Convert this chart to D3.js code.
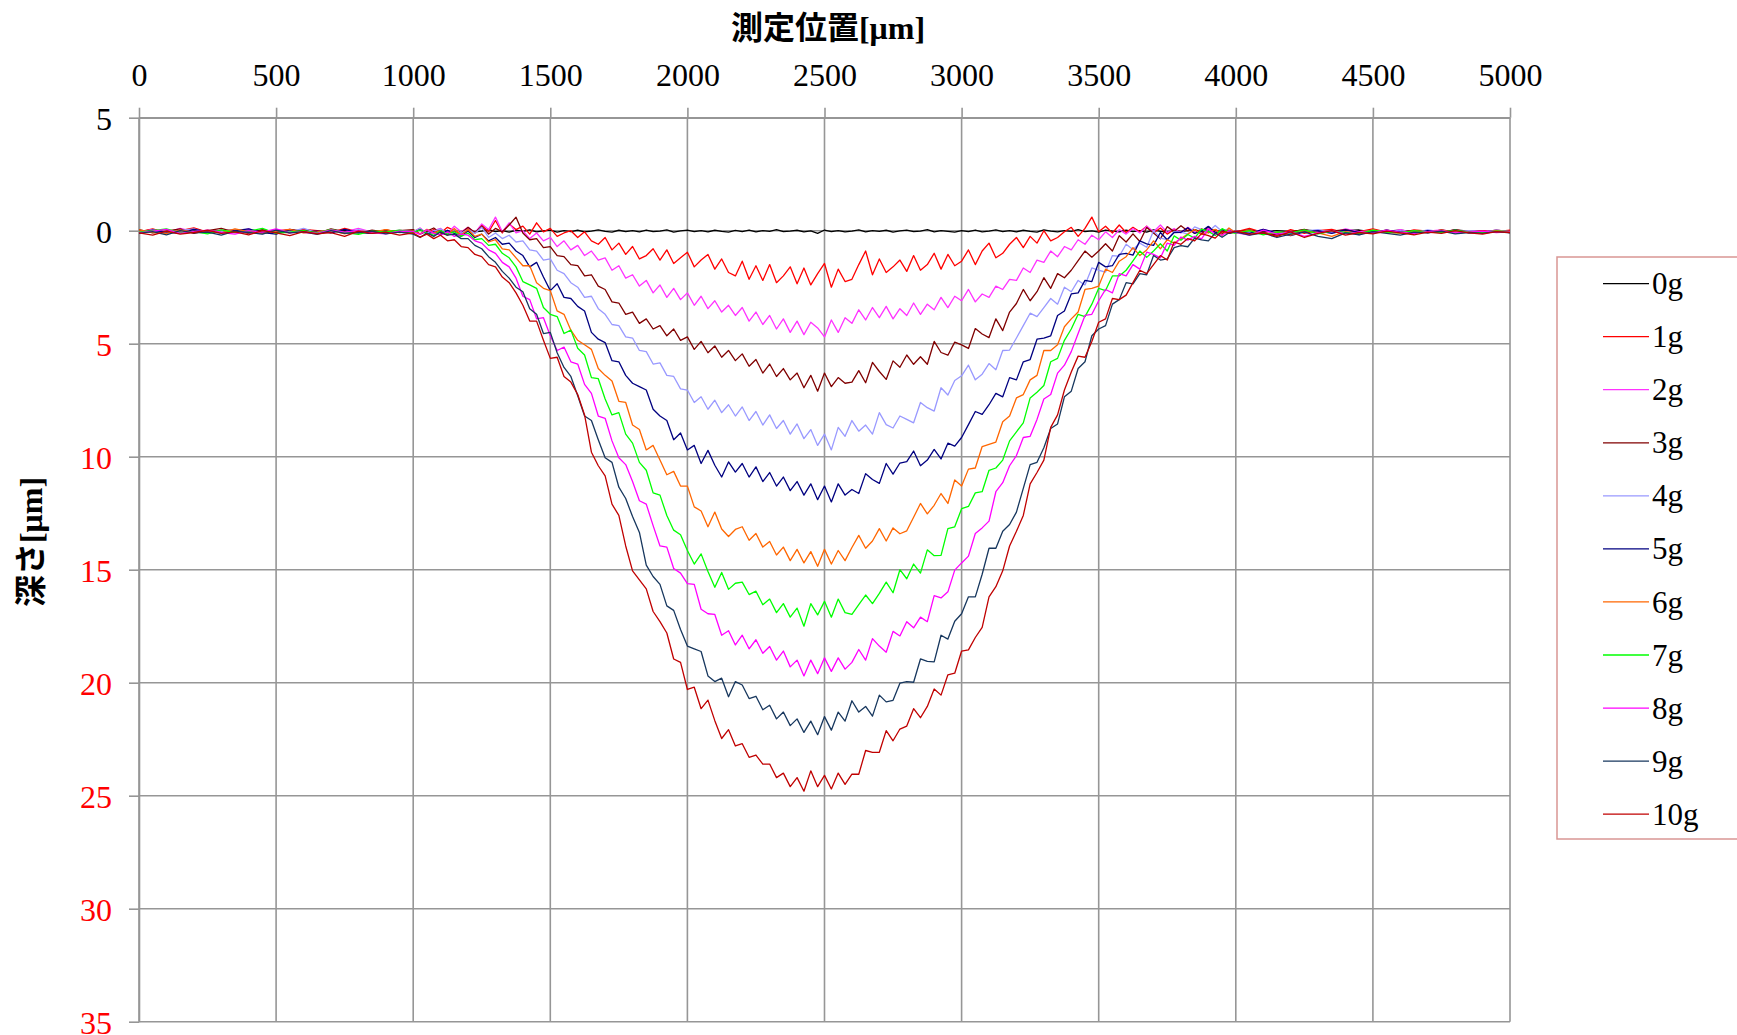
<!DOCTYPE html>
<html>
<head>
<meta charset="utf-8">
<script src="https://cdn.jsdelivr.net/npm/d3@7"></script>
<style>
  body { margin: 0; background: #fff; }
</style>
</head>
<body>
<div id="chart"></div>
<script>
const width = 1737;
const height = 1035;
const plotLeft = 139;
const plotRight = 1510;
const plotTop = 117.7;
const plotBottom = 1021.7;
const serif = "'Liberation Serif', 'Times New Roman', serif";
const gridColor = "#969696";

// measurement grid: 50 µm outside the dent, 25 µm across it
const positions = d3.range(0, 1000, 50).concat(d3.range(1000, 4000, 25), d3.range(4000, 5001, 50));

const xTicks = [0, 500, 1000, 1500, 2000, 2500, 3000, 3500, 4000, 4500, 5000];
const yTicks = [-5, 0, 5, 10, 15, 20, 25, 30, 35];

const loadNames = ["0g", "1g", "2g", "3g", "4g", "5g", "6g", "7g", "8g", "9g", "10g"];
const loadColors = ["#000000", "#FF0000", "#FF33FF", "#800000", "#9999FF", "#000080",
    "#FF6600", "#00FF00", "#FF00FF", "#17375E", "#C00000"];

// depth [µm] per load, one value per entry of positions
const depth0g = [0.03,-0.04,0.06,0.0,-0.05,0.04,0.02,-0.03,0.05,-0.02,0.03,0.08,-0.04,0.02,0.06,-0.03,0.04,0.1,-0.02,0.05,
    0.02,-0.04,0.05,0.1,-0.02,0.04,0.0,0.06,
    -0.03,0.05,0.02,-0.05,0.04,0.0,0.06,-0.02,
    0.03,-0.04,0.05,0.01,-0.03,0.06,0.0,0.04,
    -0.02,0.05,0.02,-0.04,0.03,0.06,-0.02,0.04,
    0.0,0.05,-0.03,0.04,0.02,-0.04,0.06,0.01,
    -0.03,0.04,0.0,0.05,-0.02,0.03,0.06,-0.01,
    0.04,-0.03,0.05,0.0,0.03,-0.05,0.04,0.02,
    -0.02,0.05,0.01,0.12,-0.03,0.04,0.0,0.05,
    0.02,-0.04,0.05,0.0,0.03,-0.02,0.06,0.01,
    -0.03,0.04,0.02,-0.05,0.05,0.0,0.03,0.06,
    0.0,0.04,-0.03,0.05,0.02,-0.04,0.04,0.0,
    0.05,-0.02,0.03,0.06,-0.04,0.02,0.05,0.0,
    0.03,-0.05,0.04,0.01,0.06,-0.03,0.02,0.05,
    -0.02,0.04,0.0,0.06,-0.04,0.03,0.05,-0.01,
    0.04,0.0,-0.05,0.05,0.02,-0.03,0.06,0.01,
    0.03,-0.02,0.05,0.0,0.04,-0.04,0.02,0.06,0.0,-0.03,0.05,0.02,-0.02,0.04,0.01,0.05,-0.03,0.02,0.04,0.0,0.03];

const depth1g = [0.05,-0.08,0.1,0.0,-0.12,0.06,0.02,-0.05,0.12,-0.03,0.04,0.1,-0.06,0.0,0.08,-0.1,0.05,0.12,-0.04,0.07,
    0.05,-0.1,0.12,-0.05,0.1,-0.15,0.0,0.18,
    -0.1,0.12,-0.25,0.05,-0.45,0.1,-0.3,-0.05,
    -0.2,0.15,-0.35,0.05,-0.1,0.25,0.1,0.0,
    0.3,0.05,0.45,0.6,0.3,0.85,0.55,1.05,
    0.7,1.25,1.1,0.8,1.3,0.85,1.45,1.2,
    0.95,1.6,1.3,1.05,1.7,1.25,1.85,2.0,
    1.35,2.15,1.55,2.2,1.5,2.3,2.0,1.6,
    2.35,1.65,2.4,1.9,1.45,2.5,1.7,2.25,
    2.15,1.5,0.9,1.95,1.25,1.85,1.6,1.3,
    1.8,1.1,1.75,1.5,1.0,1.7,1.05,1.55,
    1.35,0.85,1.5,0.9,0.55,1.2,1.0,0.6,
    0.3,0.75,0.25,0.55,0.0,0.45,0.3,0.05,
    -0.15,0.25,-0.1,-0.6,0.05,-0.2,0.1,-0.25,
    0.08,-0.15,0.05,-0.2,0.1,-0.12,0.15,-0.05,
    0.05,-0.1,0.12,-0.08,0.1,-0.05,0.08,0.12,
    0.05,-0.1,0.08,0.2,-0.05,0.12,0.0,-0.06,0.1,0.04,-0.08,0.06,0.1,-0.04,0.02,0.08,-0.05,0.06,0.0,0.04,-0.02];

const depth2g = [0.08,-0.05,0.1,-0.1,0.04,0.12,-0.02,0.06,-0.08,0.1,0.0,-0.06,0.08,0.14,-0.04,0.05,-0.1,0.06,0.1,-0.03,
    0.08,-0.12,0.15,0.0,-0.1,0.12,-0.2,0.05,
    -0.15,0.1,-0.3,-0.05,-0.6,0.05,-0.35,0.1,
    0.0,0.35,0.1,0.45,0.3,0.7,0.45,0.85,
    0.65,1.1,0.9,1.3,1.2,1.75,1.55,2.1,
    1.95,2.45,2.2,2.75,2.4,2.95,2.55,3.05,
    2.75,3.3,2.9,3.45,3.1,3.6,3.3,3.75,
    3.4,4.0,3.6,4.15,3.75,4.35,3.9,4.5,
    4.0,4.6,4.05,4.3,4.7,3.95,4.5,3.85,
    4.1,3.5,3.95,3.4,3.85,3.35,3.9,3.45,
    3.75,3.2,3.7,3.25,3.5,2.95,3.4,2.9,
    3.1,2.6,3.15,2.8,2.95,2.45,2.6,2.15,
    2.2,1.65,1.85,1.3,1.4,0.9,1.15,0.7,
    0.85,0.4,0.6,0.2,0.4,0.05,0.3,-0.05,
    0.15,-0.1,0.1,-0.2,0.05,-0.25,0.08,-0.1,
    0.1,-0.15,0.05,0.12,-0.08,0.1,-0.05,0.08,
    0.02,0.1,-0.06,0.08,0.15,-0.02,0.06,0.1,-0.08,0.04,0.0,0.08,-0.05,0.1,0.02,-0.04,0.06,0.0,0.05,-0.03,0.04];

const depth3g = [-0.05,0.1,0.02,-0.08,0.12,0.0,-0.1,0.06,0.1,-0.04,0.08,-0.06,0.02,0.12,-0.08,0.04,0.1,-0.02,0.06,0.0,
    -0.05,0.15,0.02,-0.12,0.1,0.2,-0.05,0.1,
    -0.15,0.08,-0.2,0.15,-0.1,0.05,-0.25,-0.6,
    0.1,0.4,0.35,0.75,0.7,1.1,1.15,1.5,
    1.55,2.0,1.95,2.45,2.6,3.15,3.2,3.7,
    3.6,4.1,3.9,4.35,4.2,4.65,4.35,4.85,
    4.7,5.25,4.9,5.4,5.1,5.6,5.3,5.75,
    5.45,6.0,5.7,6.3,5.9,6.45,6.1,6.6,
    6.3,6.95,6.4,7.1,6.3,6.9,6.5,6.75,
    6.7,6.19,6.73,5.83,6.23,6.58,5.76,6.04,
    5.5,5.91,5.58,5.91,4.9,5.39,5.51,4.93,
    5.05,5.21,4.33,4.57,4.73,3.9,4.42,3.6,
    3.22,2.6,3.1,2.7,2.08,2.55,1.9,2.08,
    1.75,1.32,0.9,1.17,0.9,0.58,0.9,0.22,
    0.5,0.14,0.48,-0.14,0.1,0.36,-0.18,0.04,
    -0.22,0.01,-0.05,0.15,-0.18,0.06,0.15,-0.03,
    0.08,-0.04,0.1,0.18,0.05,-0.06,0.12,0.02,-0.05,0.1,0.06,-0.02,0.08,0.0,0.1,-0.04,0.06,0.02,0.08,-0.03,0.04];

const depth4g = [0.06,-0.04,0.1,0.0,-0.08,0.12,0.04,-0.06,0.08,0.14,-0.02,0.05,-0.1,0.08,0.02,0.1,-0.05,0.06,0.12,0.0,
    0.04,-0.1,0.1,0.02,-0.08,0.15,-0.05,0.1,
    -0.05,0.12,-0.15,0.3,0.1,0.35,0.2,0.5,
    0.45,0.85,0.9,1.3,1.25,1.75,1.9,2.3,
    2.5,2.95,2.9,3.45,3.7,4.15,4.2,4.7,
    4.75,5.3,5.35,5.9,5.85,6.4,6.45,7.0,
    7.05,7.6,7.35,7.9,7.5,8.05,7.7,8.2,
    7.8,8.4,8.0,8.6,8.15,8.75,8.4,9.0,
    8.55,9.2,8.8,9.5,9.0,9.7,8.7,9.1,
    8.4,8.87,8.6,9.0,8.05,8.58,8.73,8.2,
    8.35,8.5,7.6,7.83,7.98,6.95,7.27,6.63,
    6.42,5.95,6.6,6.35,5.88,6.15,5.3,5.28,
    4.75,4.2,3.65,3.8,3.4,3.0,3.25,2.5,
    2.7,2.2,2.4,1.65,1.75,1.83,1.1,1.13,
    0.6,0.83,0.55,0.73,0.0,0.33,0.4,0.03,
    0.06,0.15,-0.17,-0.05,0.05,-0.23,0.04,-0.09,
    0.06,0.1,-0.04,0.08,0.15,0.02,-0.05,0.1,0.04,0.18,-0.02,0.06,0.0,0.1,-0.04,0.05,0.08,0.0,0.06,-0.02,0.04];

const depth5g = [0.1,-0.02,0.06,0.12,-0.06,0.04,0.1,0.0,-0.08,0.08,0.15,-0.04,0.06,0.02,0.1,-0.06,0.08,0.12,0.0,0.05,
    0.1,-0.05,0.15,0.05,0.2,-0.02,0.12,0.25,
    0.0,0.3,0.15,0.45,0.3,0.6,0.55,0.9,
    1.1,1.6,1.4,2.05,2.65,2.35,2.95,3.0,
    3.35,3.55,4.5,4.8,4.95,5.75,5.8,6.4,
    6.75,6.9,7.05,7.9,8.2,8.4,9.25,8.95,
    9.7,9.5,10.3,9.72,10.38,10.9,10.23,10.68,
    10.3,10.9,10.45,11.1,10.7,11.3,10.9,11.5,
    11.1,11.7,11.2,11.9,11.3,12.0,11.2,11.7,
    11.45,11.63,10.75,11.01,11.18,10.3,10.77,10.28,
    10.22,9.75,10.4,10.15,9.68,10.1,9.4,9.53,
    9.15,8.58,8.0,8.13,7.7,7.2,7.35,6.5,
    6.6,5.8,5.7,4.8,4.75,4.65,3.75,3.55,
    2.8,2.75,2.2,2.25,1.4,1.6,1.55,1.05,
    1.0,1.08,0.45,0.58,0.65,0.08,0.4,0.08,
    0.07,-0.13,0.12,0.01,-0.19,0.1,-0.05,0.12,
    0.04,0.12,-0.06,0.1,0.22,0.05,0.0,0.12,-0.04,0.08,0.1,-0.02,0.06,0.12,0.0,0.08,-0.04,0.1,0.05,0.02,0.08];

const depth6g = [-0.04,0.08,0.12,-0.02,0.06,0.0,0.1,-0.08,0.04,0.12,0.02,-0.06,0.1,0.05,-0.02,0.14,0.0,0.06,-0.05,0.08,
    0.02,0.14,-0.06,0.1,0.0,0.18,-0.1,0.2,
    -0.05,0.25,0.15,0.5,0.4,0.8,0.85,1.2,
    1.55,1.55,2.3,2.55,2.65,3.55,3.7,4.4,
    4.85,5.05,5.25,6.1,6.4,6.65,7.55,7.6,
    8.6,8.8,9.7,9.5,10.15,10.8,10.65,11.3,
    11.3,12.22,12.4,13.1,12.45,13.2,13.53,13.22,
    13.1,13.7,13.4,14.0,13.75,14.35,14.0,14.6,
    14.1,14.7,14.2,14.85,14.1,14.75,14.15,14.6,
    14.02,13.48,14.05,13.73,13.18,13.73,13.15,13.41,
    13.28,12.68,12.07,12.53,12.15,11.63,12.07,11.03,
    11.3,10.55,10.5,9.55,9.45,9.35,8.45,8.2,
    7.4,7.25,6.6,6.4,5.3,5.3,5.05,4.25,
    3.9,3.6,2.6,2.55,2.45,1.7,1.85,1.35,
    1.15,0.75,1.1,0.85,0.45,0.8,0.4,0.55,
    0.35,0.15,-0.05,0.17,0.06,-0.06,0.21,-0.12,
    0.1,-0.02,0.15,0.06,0.2,0.0,0.1,0.25,0.04,0.12,-0.04,0.08,0.1,0.02,0.06,-0.02,0.08,0.04,0.1,0.0,0.06];

const depth7g = [0.06,0.0,-0.08,0.1,0.04,0.14,-0.04,0.08,0.02,-0.1,0.12,0.06,0.0,0.1,-0.06,0.08,0.16,0.02,0.05,-0.02,
    0.08,-0.04,0.12,0.2,0.0,0.15,0.05,0.25,
    0.1,0.4,0.35,0.65,0.6,1.0,1.2,1.6,
    2.25,2.4,2.55,3.4,3.7,3.8,4.55,4.4,
    5.2,5.5,6.5,6.55,7.45,8.15,8.05,9.0,
    9.4,10.25,10.6,11.6,11.7,12.6,13.25,13.45,
    14.15,14.75,14.3,15.08,15.78,15.12,15.87,15.6,
    15.55,16.1,15.95,16.55,16.3,16.9,16.5,17.1,
    16.7,17.5,16.5,17.0,16.4,17.1,16.3,16.9,
    16.98,16.55,16.12,16.5,16.05,15.55,16.02,15.0,
    15.4,14.75,15.15,14.12,14.38,14.37,13.18,13.1,
    12.3,12.2,11.6,11.55,10.6,10.5,10.15,9.3,
    8.9,8.5,7.4,7.15,6.85,5.8,5.65,4.85,
    4.35,3.7,3.8,3.25,2.55,2.65,2.0,2.0,
    1.75,1.33,0.9,1.18,0.9,0.58,0.9,0.23,
    0.42,0.17,0.33,-0.07,0.03,0.21,-0.09,0.06,
    0.12,0.0,0.18,0.05,0.1,-0.04,0.14,0.02,0.08,0.12,-0.02,0.06,0.1,0.0,0.05,0.08,-0.03,0.06,0.1,0.02,0.04];

const depth8g = [0.1,0.02,-0.06,0.12,0.04,-0.02,0.08,0.15,0.0,0.06,-0.08,0.1,0.04,0.12,-0.04,0.06,0.0,0.1,0.14,0.02,
    0.04,0.16,-0.04,0.12,0.2,0.05,0.25,0.15,
    0.2,0.45,0.55,0.85,1.0,1.4,1.6,2.1,
    2.9,3.05,3.9,3.85,4.65,5.3,5.15,5.8,
    5.9,6.8,7.2,8.2,8.3,9.3,10.05,10.35,
    11.1,11.95,12.1,13.05,13.95,14.0,14.95,15.15,
    15.62,15.65,16.75,16.95,16.98,17.9,17.7,18.33,
    17.9,18.5,18.1,18.7,18.4,19.0,18.6,19.3,
    19.0,19.7,19.0,19.6,18.9,19.5,18.9,19.4,
    19.1,18.53,19.0,18.05,18.38,18.65,17.73,17.93,
    17.3,17.57,17.1,17.3,16.15,16.25,15.98,15.02,
    14.7,14.4,13.4,13.15,12.85,11.55,11.15,10.4,
    9.95,9.15,9.1,8.35,7.45,7.25,6.3,5.95,
    5.35,4.55,3.75,3.7,3.1,2.6,2.75,1.9,
    2.0,1.5,1.7,0.95,1.05,1.2,0.55,0.65,
    0.28,0.42,0.25,0.36,-0.08,0.14,0.2,0.0,
    0.08,0.2,-0.02,0.15,0.05,0.25,0.1,0.0,0.14,0.06,0.1,-0.02,0.08,0.12,0.04,0.0,0.1,0.06,0.02,0.08,0.05];

const depth9g = [0.12,0.04,0.18,0.0,0.1,0.06,0.2,0.02,0.08,0.15,-0.02,0.1,0.05,0.16,0.0,0.12,0.08,0.02,0.14,0.06,
    0.15,0.3,0.1,0.25,0.05,0.2,0.15,0.35,
    0.35,0.65,0.8,1.15,1.4,1.8,2.1,2.5,
    2.7,3.45,3.7,4.55,4.5,5.4,6.05,6.45,
    7.3,8.2,8.4,9.25,10.05,10.25,11.35,11.85,
    12.65,13.35,14.8,15.3,15.65,16.6,16.8,17.65,
    18.38,18.5,18.62,19.7,19.95,19.8,20.62,19.95,
    20.1,20.7,20.6,21.2,21.0,21.6,21.3,21.9,
    21.6,22.2,21.7,22.3,21.5,22.1,21.3,21.7,
    20.8,21.3,21.05,21.48,20.55,20.85,20.78,20.02,
    19.95,19.98,18.95,19.06,19.08,17.9,18.07,17.28,
    16.95,16.2,16.2,15.2,14.05,14.05,13.3,13.0,
    12.45,11.4,10.35,10.25,9.6,8.75,8.55,7.35,
    7.1,6.1,5.8,4.65,4.35,4.2,3.25,3.05,
    2.3,2.35,1.9,1.95,1.1,1.3,1.25,0.75,
    0.66,0.71,0.33,0.41,0.45,0.1,0.29,0.09,
    0.05,0.2,0.1,0.3,0.15,0.05,0.25,0.35,0.1,0.18,0.04,0.12,0.2,0.06,0.1,0.02,0.14,0.08,0.12,0.04,0.1];

const depth10g = [0.1,0.2,0.02,0.15,0.08,-0.02,0.12,0.05,0.18,0.0,0.1,0.22,0.04,0.14,0.08,0.25,0.02,0.12,0.06,0.2,
    0.1,0.28,0.15,0.35,0.2,0.45,0.4,0.7,
    0.75,1.05,1.15,1.5,1.6,2.05,2.3,2.75,
    3.3,4.0,4.0,4.85,5.65,5.6,6.45,6.7,
    7.25,8.15,9.8,10.4,10.85,12.1,12.6,13.95,
    15.05,15.45,15.85,16.85,17.3,17.8,18.95,19.1,
    20.3,20.2,21.15,20.77,21.68,22.47,22.08,22.8,
    22.7,23.3,23.2,23.6,23.6,24.2,24.0,24.6,
    24.2,24.8,23.9,24.6,24.1,24.7,24.0,24.5,
    24.05,24.05,23.0,23.08,23.08,22.12,22.57,22.05,
    21.92,21.15,21.55,21.05,20.28,20.55,19.65,19.58,
    18.6,18.55,18.0,17.55,16.2,15.75,15.05,13.95,
    13.3,12.6,11.2,10.7,10.15,8.7,8.15,7.05,
    6.25,5.55,5.6,4.9,4.05,3.9,3.0,3.05,
    2.85,2.3,1.75,1.9,1.5,1.1,1.3,0.5,
    0.6,0.35,0.45,0.13,0.22,0.33,0.02,0.1,
    0.02,0.15,0.1,0.25,0.05,0.3,0.12,0.0,0.2,0.08,0.14,0.02,0.1,0.18,0.06,0.12,0.0,0.1,0.15,0.04,0.08];

const depthSeries = [depth0g, depth1g, depth2g, depth3g, depth4g, depth5g,
    depth6g, depth7g, depth8g, depth9g, depth10g];

var svg = d3.select("#chart").append("svg")
    .attr("width", width)
    .attr("height", height)
    .style("background", "#fff");

const x = d3.scaleLinear().domain([0, 5000]).range([plotLeft, plotRight]);
const y = d3.scaleLinear().domain([-5, 35]).range([plotTop, plotBottom]);

/**
 * Grid lines behind the profiles
 */
function drawGrid() {
    const grid = svg.append("g").attr("class", "grid")
        .attr("stroke", gridColor)
        .attr("stroke-width", 1.6);

    grid.selectAll(".vline")
        .data(xTicks)
        .enter().append("line")
        .attr("x1", d => x(d)).attr("x2", d => x(d))
        .attr("y1", plotTop).attr("y2", plotBottom);

    grid.selectAll(".hline")
        .data(yTicks)
        .enter().append("line")
        .attr("x1", plotLeft).attr("x2", plotRight)
        .attr("y1", d => y(d)).attr("y2", d => y(d));
}

/**
 * Top x axis and left y axis (depth grows downward)
 */
function drawAxis() {
    const xAxis = svg.append("g")
        .attr("class", "xAxis")
        .attr("transform", `translate(0,${plotTop})`)
        .call(d3.axisTop(x).tickValues(xTicks).tickSize(10).tickSizeOuter(0).tickPadding(22).tickFormat(d3.format("d")));

    const yAxis = svg.append("g")
        .attr("class", "yAxis")
        .attr("transform", `translate(${plotLeft},0)`)
        .call(d3.axisLeft(y).tickValues(yTicks).tickSize(10).tickSizeOuter(0).tickPadding(17).tickFormat(d => Math.abs(d)));

    [xAxis, yAxis].forEach(a => {
        a.select(".domain").attr("stroke", gridColor).attr("stroke-width", 1.6);
        a.selectAll(".tick line").attr("stroke", gridColor).attr("stroke-width", 1.6);
        a.selectAll(".tick text")
            .style("font-family", serif)
            .style("font-size", "32px");
    });
    xAxis.selectAll(".tick text").attr("fill", "#000");
    yAxis.selectAll(".tick text")
        .attr("fill", d => d > 0 ? "#FF0000" : "#000")
        .attr("dy", "0.36em");
}

/**
 * Axis titles, Japanese with a serif unit part
 */
function drawAxisLabels() {
    const xt = svg.append("text")
        .attr("class", "xlabel")
        .attr("x", 828)
        .attr("y", 39)
        .style("text-anchor", "middle")
        .style("font-size", "32px")
        .style("font-weight", "bold");
    xt.append("tspan").style("font-family", "'Noto Sans CJK JP', sans-serif").text("測定位置");
    xt.append("tspan").style("font-family", serif).text("[μm]");

    const yt = svg.append("text")
        .attr("class", "ylabel")
        .attr("transform", "translate(42,542) rotate(-90)")
        .style("text-anchor", "middle")
        .style("font-size", "32px")
        .style("font-weight", "bold");
    yt.append("tspan").style("font-family", "'Noto Sans CJK JP', sans-serif").text("深さ");
    yt.append("tspan").style("font-family", serif).text("[μm]");
}

drawGrid();
drawAxis();
drawAxisLabels();

const line = d3.line()
    .x(d => x(d.pos))
    .y(d => y(d.depth));

const profiles = loadNames.map((name, i) => ({
    name: name,
    color: loadColors[i],
    points: depthSeries[i].map((v, j) => ({pos: positions[j], depth: v})).filter(d => d.pos !== undefined)
}));

svg.append("g")
    .attr("class", "profiles")
    .selectAll("path")
    .data(profiles)
    .enter().append("path")
    .attr("d", d => line(d.points))
    .attr("fill", "none")
    .attr("stroke", d => d.color)
    .attr("stroke-width", 1.3)
    .attr("stroke-linejoin", "round");

// Legend box on the right, partly cut by the page edge
const legend = svg.append("g").attr("class", "legend");
legend.append("rect")
    .attr("x", 1557).attr("y", 257)
    .attr("width", 200).attr("height", 582)
    .attr("fill", "#fff")
    .attr("stroke", "#D99694")
    .attr("stroke-width", 1.5);

const legendRow = d3.scaleLinear().domain([0, 10]).range([283.6, 814.2]);
const entries = legend.selectAll(".entry")
    .data(profiles)
    .enter().append("g")
    .attr("class", "entry")
    .attr("transform", (d, i) => `translate(0,${legendRow(i)})`);

entries.append("line")
    .attr("x1", 1603).attr("x2", 1649)
    .attr("stroke", d => d.color)
    .attr("stroke-width", 1.3);

entries.append("text")
    .attr("x", 1652)
    .attr("dy", "0.34em")
    .text(d => d.name)
    .style("font-family", serif)
    .style("font-size", "31px");
</script>
</body>
</html>
